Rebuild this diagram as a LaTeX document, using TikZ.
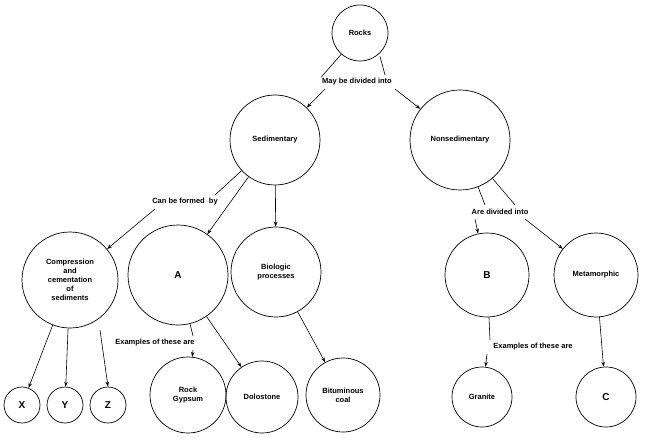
\documentclass[tikz,border=0pt]{standalone}
\usepackage{fontspec}
\setmainfont{Liberation Sans}
\usetikzlibrary{arrows.meta}
\begin{document}
\begin{tikzpicture}[x=1pt,y=-1pt,
  c/.style={circle,draw,line width=0.7pt,inner sep=0pt,align=center,font=\bfseries\fontsize{7.5}{9}\selectfont},
  lab/.style={fill=white,inner sep=1pt,font=\bfseries\fontsize{7.5}{9}\selectfont},
  ar/.style={-{Stealth[length=5pt,width=3.5pt]},line width=0.6pt},
  ln/.style={line width=0.6pt}]
\useasboundingbox (0,0) rectangle (652,438);
\node[c,minimum size=56] (rocks) at (360,33) {Rocks};
\node[c,minimum size=90] (sed) at (275,140) {Sedimentary};
\node[c,minimum size=100] (non) at (460,140) {Nonsedimentary};
\node[c,minimum size=96] (comp) at (70,280) {Compression\\and\\cementation\\of\\sediments};
\node[c,minimum size=100,font=\bfseries\fontsize{10}{12}\selectfont] (A) at (178,275) {A};
\node[c,minimum size=90] (bio) at (276,272) {Biologic\\processes};
\node[c,minimum size=84,font=\bfseries\fontsize{10}{12}\selectfont] (B) at (487,275) {B};
\node[c,minimum size=84] (meta) at (596,275) {Metamorphic};
\node[c,minimum size=36,font=\bfseries\fontsize{10}{12}\selectfont] (X) at (22,405) {X};
\node[c,minimum size=36,font=\bfseries\fontsize{10}{12}\selectfont] (Y) at (65,405) {Y};
\node[c,minimum size=36,font=\bfseries\fontsize{10}{12}\selectfont] (Z) at (108,405) {Z};
\node[c,minimum size=76] (gyp) at (188,395) {Rock\\Gypsum};
\node[c,minimum size=72] (dol) at (262,397) {Dolostone};
\node[c,minimum size=74] (coal) at (343,395) {Bituminous\\coal};
\node[c,minimum size=60] (gran) at (482,397) {Granite};
\node[c,minimum size=60,font=\bfseries\fontsize{10}{12}\selectfont] (C) at (606,397) {C};
% labels
\draw[ln] (comp.south east)++(-5,10) coordinate (zs);
\draw[ar] (100,330) -- (Z.north);
\node[lab] (l1) at (357,82) {May be divided into};
\node[lab] (l2) at (185,202) {Can be formed\ \ by};
\node[lab] (l3) at (500,212) {Are divided into};
\node[lab] (l4) at (155,343) {Examples of these are};
\node[lab] (l5) at (533,347) {Examples of these are};
\draw[ln] (rocks) -- (l1.north west|-l1.north);
\draw[ln] (rocks.south) ++(20,-5) -- (385,75);
\draw[ar] (325,89) -- (sed);
\draw[ar] (395,89) -- (non);
\draw[ln] (sed) -- (215,195);
\draw[ar] (155,209) -- (comp);
\draw[ar] (sed) -- (A);
\draw[ar] (sed) -- (bio);
\draw[ln] (non) -- (485,205);
\draw[ln] (non) -- (515,205);
\draw[ar] (475,219) -- (B);
\draw[ar] (525,219) -- (meta);
\draw[ar] (comp) -- (X);
\draw[ar] (comp) -- (Y);
\draw[ln] (A) -- (193,336);
\draw[ar] (193,350) -- (gyp);
\draw[ar] (A) -- (dol);
\draw[ar] (bio) -- (coal);
\draw[ln] (B) -- (490,340);
\draw[ar] (487,354) -- (gran);
\draw[ar] (meta) -- (C);
\end{tikzpicture}
\end{document}
